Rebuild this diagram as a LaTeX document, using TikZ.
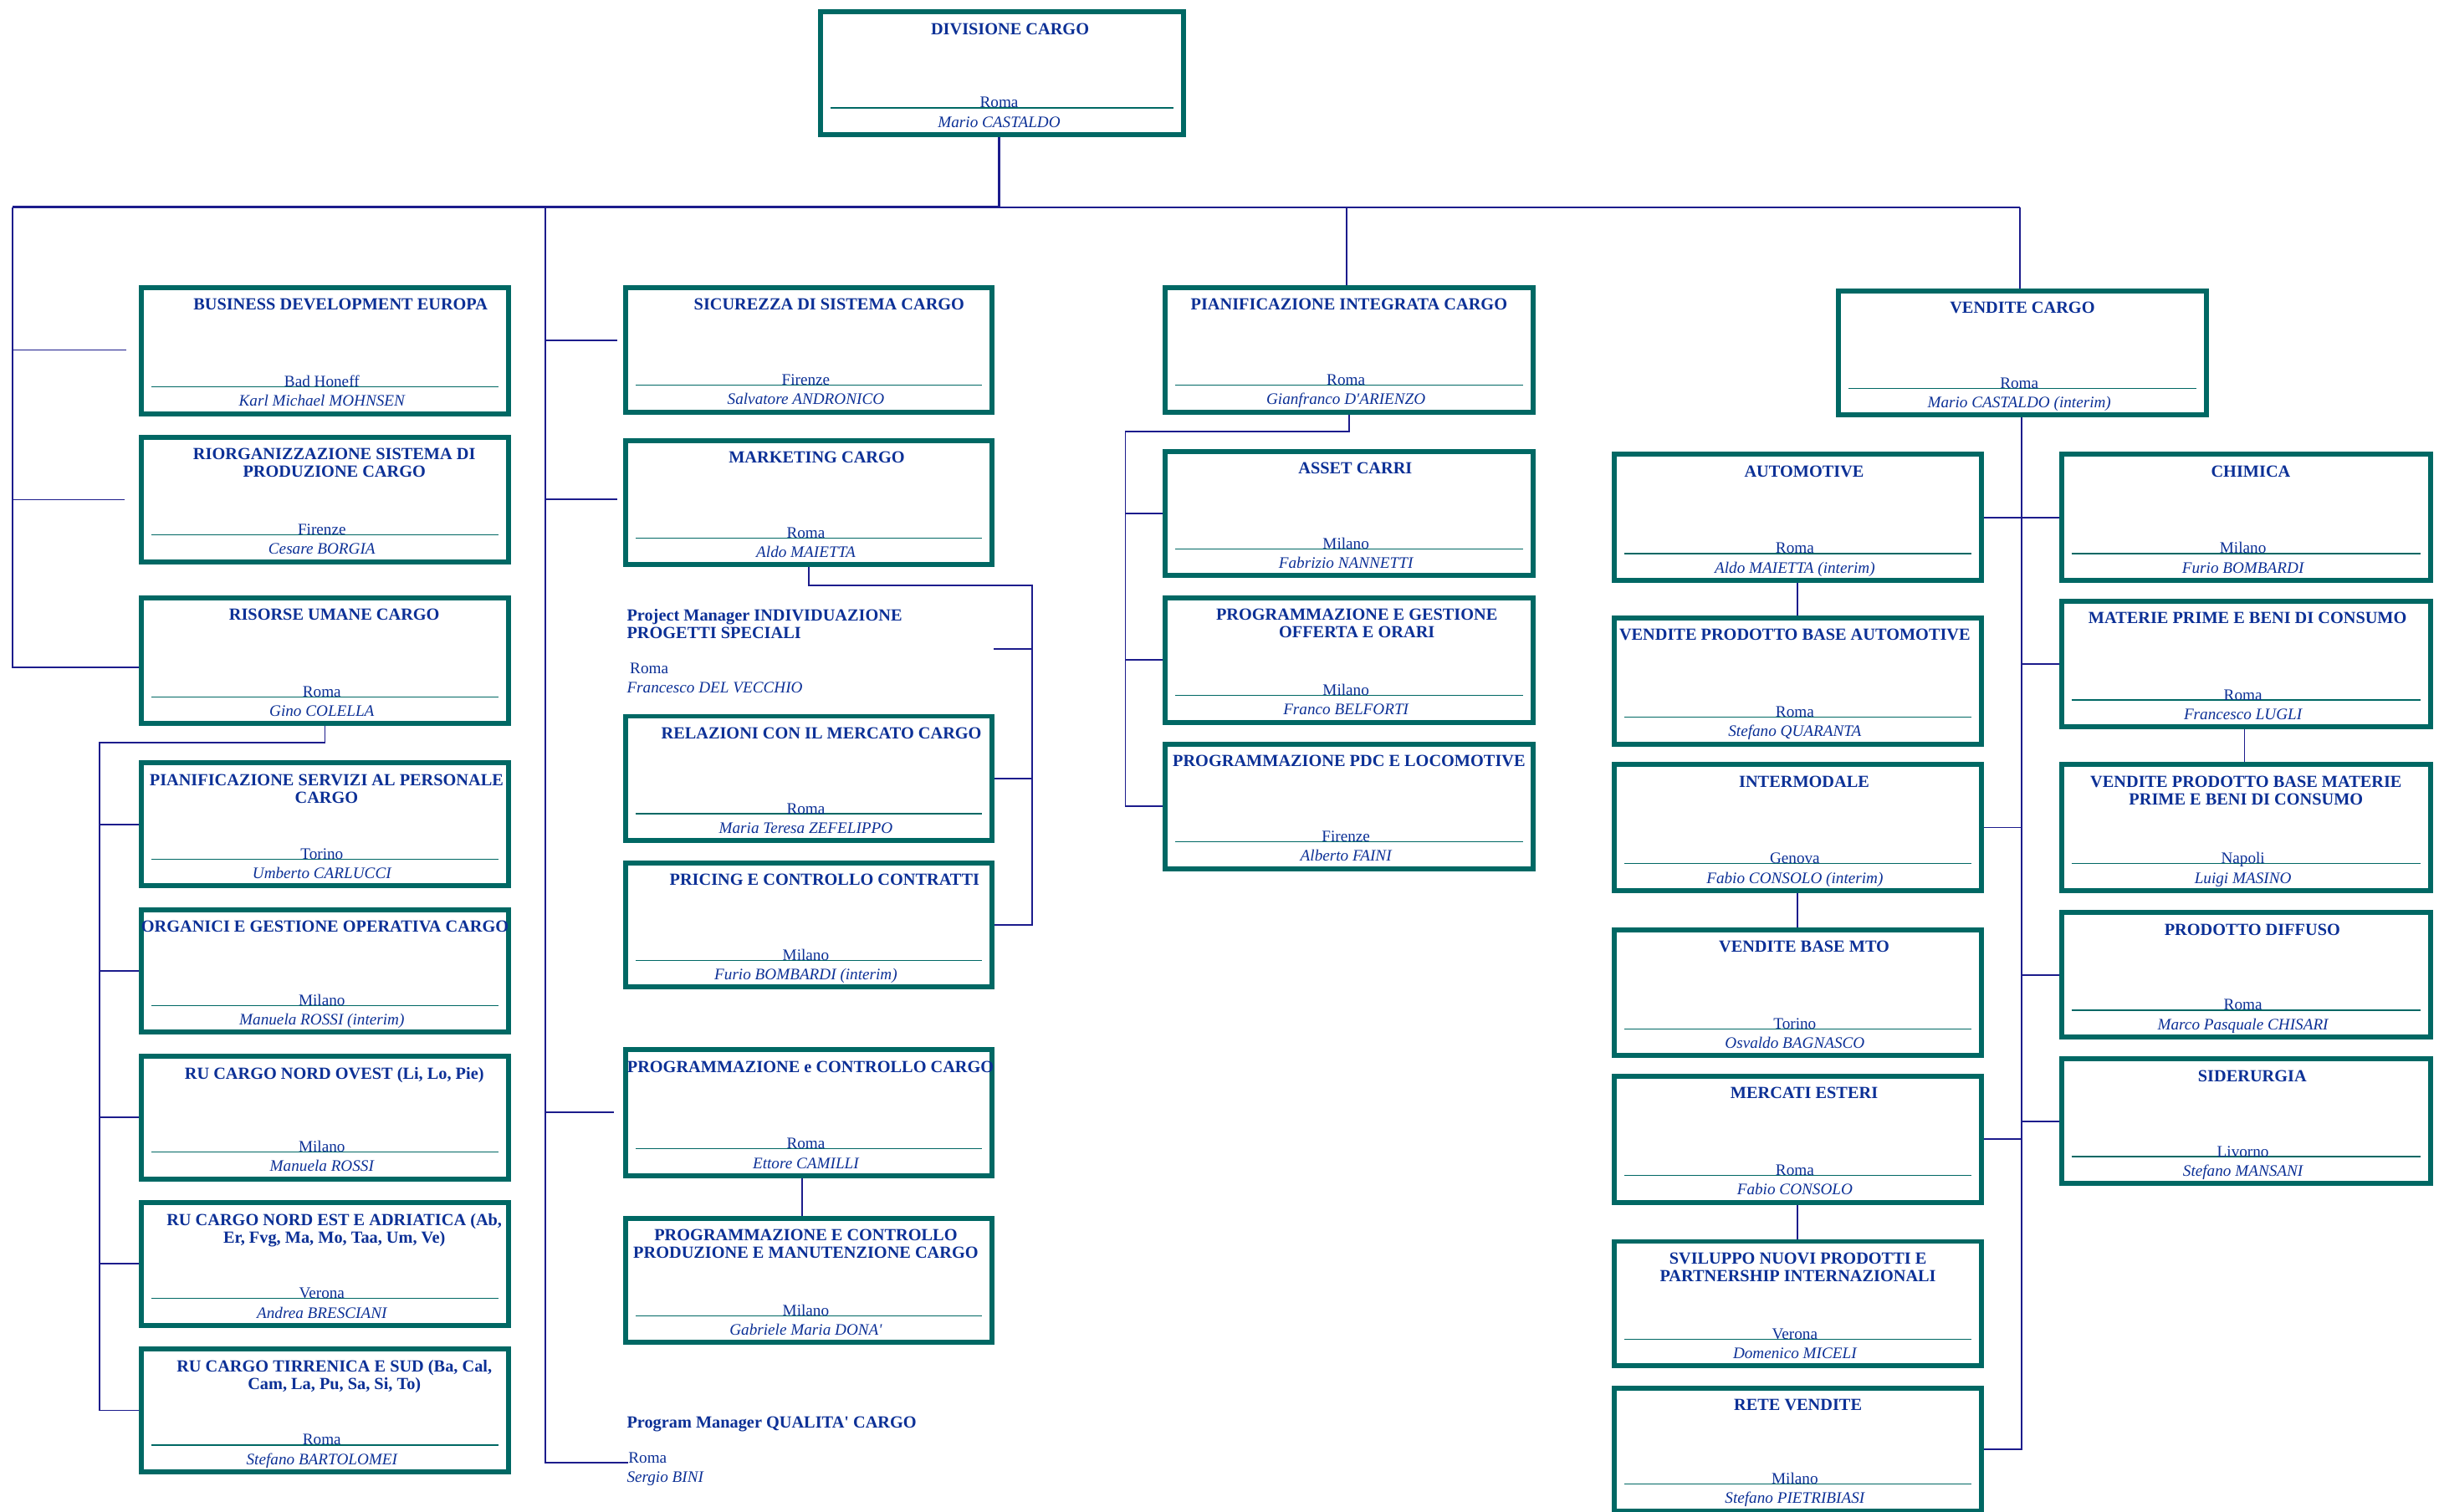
\documentclass[tikz,border=0pt]{standalone}
\usepackage{fontspec}
\setmainfont{Liberation Serif}
\definecolor{boxteal}{RGB}{0,104,100}
\definecolor{txtblue}{RGB}{12,48,150}
\definecolor{linenavy}{RGB}{28,28,140}
\newcommand\orgbox[9]{%
  \node[obox, minimum width={#4-#2-3.2}, minimum height={#5-#3-3.2}] (#1) at ({(#2+#4)/2},{(#3+#5)/2}) {};
  \draw[sepline] ({#2+8},{#5-18.8}) -- ({#4-8},{#5-18.8});
  \node[ttl, anchor=north] (#1-t) at ({(#2+#4)/2+#9},{#3+8.6}) {#6};
  \node[locs, anchor=base] (#1-l) at ({(#2+#4)/2-2},{#5-18.8}) {#7};
  \node[pers, anchor=base] (#1-p) at ({(#2+#4)/2-2},{#5-6.3}) {#8};
}
\begin{document}
\begin{tikzpicture}[x=1pt,y=-1pt,
  obox/.style={draw=boxteal, line width=3.2pt, inner sep=0pt},
  sepline/.style={draw=boxteal, line width=0.7pt},
  ttl/.style={font=\fontsize{10.9}{11.2}\selectfont\bfseries, text=txtblue, inner sep=0pt, align=center},
  locs/.style={font=\fontsize{10.3}{11}\selectfont, text=txtblue, inner sep=0pt},
  pers/.style={font=\fontsize{10.3}{11}\selectfont\itshape, text=txtblue, inner sep=0pt},
  conn/.style={draw=linenavy, line width=1pt},
  trunk/.style={draw=linenavy, line width=1.5pt}]
\fill[white] (0,0) rectangle (1568,970);
\useasboundingbox (0,0) rectangle (1568,970);

% ---- top
\orgbox{div}{525}{6}{761}{88}{DIVISIONE CARGO}{Roma}{Mario CASTALDO}{5}

% ---- column 1
\orgbox{bus}{89}{183}{328}{267}{BUSINESS DEVELOPMENT EUROPA}{Bad Honeff}{Karl Michael MOHNSEN}{10}
\orgbox{rio}{89}{279}{328}{362}{RIORGANIZZAZIONE SISTEMA DI\\PRODUZIONE CARGO}{Firenze}{Cesare BORGIA}{6}
\orgbox{ru}{89}{382}{328}{466}{RISORSE UMANE CARGO}{Roma}{Gino COLELLA}{6}
\orgbox{ps}{89}{488}{328}{570}{PIANIFICAZIONE SERVIZI AL PERSONALE\\CARGO}{Torino}{Umberto CARLUCCI}{1}
\orgbox{org}{89}{582}{328}{664}{ORGANICI E GESTIONE OPERATIVA CARGO}{Milano}{Manuela ROSSI (interim)}{0}
\orgbox{rno}{89}{676}{328}{758}{RU CARGO NORD OVEST (Li, Lo, Pie)}{Milano}{Manuela ROSSI}{6}
\orgbox{rne}{89}{770}{328}{852}{RU CARGO NORD EST E ADRIATICA (Ab,\\Er, Fvg, Ma, Mo, Taa, Um, Ve)}{Verona}{Andrea BRESCIANI}{6}
\orgbox{rts}{89}{864}{328}{946}{RU CARGO TIRRENICA E SUD (Ba, Cal,\\Cam, La, Pu, Sa, Si, To)}{Roma}{Stefano BARTOLOMEI}{6}

% ---- column 2
\orgbox{sic}{400}{183}{638}{266}{SICUREZZA DI SISTEMA CARGO}{Firenze}{Salvatore ANDRONICO}{13}
\orgbox{mkt}{400}{281}{638}{364}{MARKETING CARGO}{Roma}{Aldo MAIETTA}{5}
\orgbox{rel}{400}{458}{638}{541}{RELAZIONI CON IL MERCATO CARGO}{Roma}{Maria Teresa ZEFELIPPO}{8}
\orgbox{pri}{400}{552}{638}{635}{PRICING E CONTROLLO CONTRATTI}{Milano}{Furio BOMBARDI (interim)}{10}
\orgbox{pcc}{400}{672}{638}{756}{PROGRAMMAZIONE e CONTROLLO CARGO}{Roma}{Ettore CAMILLI}{1}
\orgbox{pcp}{400}{780}{638}{863}{PROGRAMMAZIONE E CONTROLLO\\PRODUZIONE E MANUTENZIONE CARGO}{Milano}{Gabriele Maria DONA\textquotesingle}{-2}

\node[ttl, anchor=north west, align=left] (pmt) at (402,390.6) {Project Manager INDIVIDUAZIONE\\PROGETTI SPECIALI};
\node[locs, anchor=base west] (pml) at (404,432.5) {Roma};
\node[pers, anchor=base west] (pmp) at (402,444.6) {Francesco DEL VECCHIO};
\node[ttl, anchor=base west] (qt) at (402,916) {Program Manager QUALITA\textquotesingle{} CARGO};
\node[locs, anchor=base west] (ql) at (403,938.6) {Roma};
\node[pers, anchor=base west] (qp) at (402,951) {Sergio BINI};

% ---- column 3
\orgbox{pic}{746}{183}{985}{266}{PIANIFICAZIONE INTEGRATA CARGO}{Roma}{Gianfranco D\textquotesingle ARIENZO}{0}
\orgbox{ast}{746}{288}{985}{371}{ASSET CARRI}{Milano}{Fabrizio NANNETTI}{4}
\orgbox{pgo}{746}{382}{985}{465}{PROGRAMMAZIONE E GESTIONE\\OFFERTA E ORARI}{Milano}{Franco BELFORTI}{5}
\orgbox{pdc}{746}{476}{985}{559}{PROGRAMMAZIONE PDC E LOCOMOTIVE}{Firenze}{Alberto FAINI}{0}

% ---- column 4
\orgbox{vc}{1178}{185}{1417}{268}{VENDITE CARGO}{Roma}{Mario CASTALDO (interim)}{0}
\orgbox{auto}{1034}{290}{1273}{374}{AUTOMOTIVE}{Roma}{Aldo MAIETTA (interim)}{4}
\orgbox{vpba}{1034}{395}{1273}{479}{VENDITE PRODOTTO BASE AUTOMOTIVE}{Roma}{Stefano QUARANTA}{-2}
\orgbox{inter}{1034}{489}{1273}{573}{INTERMODALE}{Genova}{Fabio CONSOLO (interim)}{4}
\orgbox{mto}{1034}{595}{1273}{679}{VENDITE BASE MTO}{Torino}{Osvaldo BAGNASCO}{4}
\orgbox{merc}{1034}{689}{1273}{773}{MERCATI ESTERI}{Roma}{Fabio CONSOLO}{4}
\orgbox{svil}{1034}{795}{1273}{878}{SVILUPPO NUOVI PRODOTTI E\\PARTNERSHIP INTERNAZIONALI}{Verona}{Domenico MICELI}{0}
\orgbox{rete}{1034}{889}{1273}{971}{RETE VENDITE}{Milano}{Stefano PIETRIBIASI}{0}
\orgbox{chim}{1321}{290}{1561}{374}{CHIMICA}{Milano}{Furio BOMBARDI}{3}
\orgbox{mat}{1321}{384}{1561}{468}{MATERIE PRIME E BENI DI CONSUMO}{Roma}{Francesco LUGLI}{1}
\orgbox{vpbm}{1321}{489}{1561}{573}{VENDITE PRODOTTO BASE MATERIE\\PRIME E BENI DI CONSUMO}{Napoli}{Luigi MASINO}{0}
\orgbox{pdif}{1321}{584}{1561}{667}{PRODOTTO DIFFUSO}{Roma}{Marco Pasquale CHISARI}{4}
\orgbox{sid}{1321}{678}{1561}{761}{SIDERURGIA}{Livorno}{Stefano MANSANI}{4}

% ---- connectors
\coordinate (J) at (641,133);
\coordinate (JL) at (8,133);
\coordinate (JR) at (1296,133);
\coordinate (M) at (350,133);
\coordinate (C3) at (864,133);
\draw[trunk] (div.south -| J) -- (J);
\draw[trunk] (JL) -- (J);
\draw[conn] (J) -- (JR);

% left branch
\draw[conn] (JL) |- ([yshift=-4pt]ru.west);
\coordinate (tb) at (81,224.6);
\coordinate (tr) at (80,320.6);
\draw[conn] (tb -| JL) -- (tb);
\draw[conn] (tr -| JL) -- (tr);
\coordinate (R) at (64,476.5);
\draw[conn] (ru.south) |- (R) -- (R |- rts.west) -- (rts.west);
\draw[conn] (R |- ps.west) -- (ps.west);
\draw[conn] (R |- org.west) -- (org.west);
\draw[conn] (R |- rno.west) -- (rno.west);
\draw[conn] (R |- rne.west) -- (rne.west);

% second branch
\coordinate (Mb) at (350,938.6);
\draw[conn] (M) -- (Mb) -- (Mb -| ql.west);
\coordinate (ts) at (396,218.5);
\coordinate (tm) at (396,320.5);
\coordinate (tp) at (394,713.8);
\draw[conn] (ts -| M) -- (ts);
\draw[conn] (tm -| M) -- (tm);
\draw[conn] (tp -| M) -- (tp);
\coordinate (K) at (662,375.6);
\draw[conn] (mkt.south) |- (K) -- (K |- pri.east) -- (pri.east);
\draw[conn] (K |- rel.east) -- (rel.east);
\coordinate (pmT) at (637.5,416.2);
\draw[conn] (pmT -| K) -- (pmT);
\coordinate (pcx) at (514.7,700);
\draw[conn] (pcc.south -| pcx) -- (pcp.north -| pcx);

% third branch
\draw[conn] (C3) -- (C3 |- pic.north);
\coordinate (P) at (722,277);
\draw[conn] (pic.south) |- (P) -- (P |- pdc.west) -- (pdc.west);
\draw[conn] (P |- ast.west) -- (ast.west);
\draw[conn] (P |- pgo.west) -- (pgo.west);

% fourth branch
\draw[conn] (JR) -- (JR |- vc.north);
\coordinate (V) at (1297,930);
\draw[conn] (vc.south -| V) -- (V) -- (rete.east);
\draw[conn] (auto.east) -- (chim.west);
\draw[conn] (mat.west) -- (mat.west -| V);
\draw[conn] (inter.east) -- (inter.east -| V);
\draw[conn] (pdif.west) -- (pdif.west -| V);
\draw[conn] (sid.west) -- (sid.west -| V);
\draw[conn] (merc.east) -- (merc.east -| V);
\coordinate (A) at (1153,500);
\coordinate (B) at (1440,500);
\draw[conn] (auto.south -| A) -- (vpba.north -| A);
\draw[conn] (inter.south -| A) -- (mto.north -| A);
\draw[conn] (merc.south -| A) -- (svil.north -| A);
\draw[conn] (mat.south -| B) -- (vpbm.north -| B);
\end{tikzpicture}
\end{document}
